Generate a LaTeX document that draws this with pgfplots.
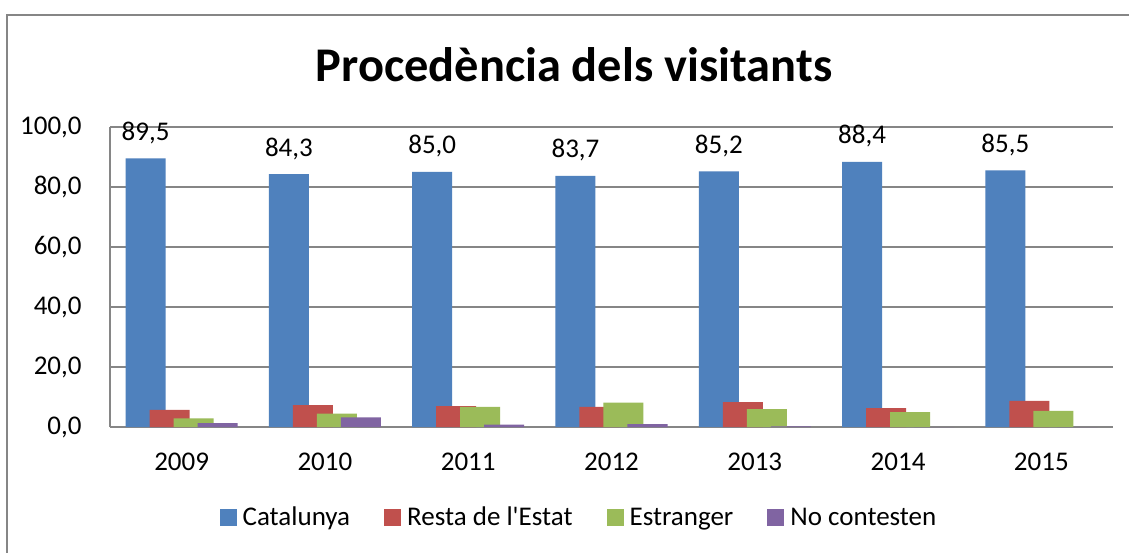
\documentclass[border=0pt]{standalone}
\usepackage{pgfplots}
\pgfplotsset{compat=1.18}
\usepackage{fontspec}
\setmainfont{Carlito}[Ligatures=TeXOff]
\definecolor{cBlue}{HTML}{4F81BD}
\definecolor{cRed}{HTML}{C0504D}
\definecolor{cGreen}{HTML}{9BBB59}
\definecolor{cPurple}{HTML}{8064A2}
\definecolor{cGrid}{HTML}{868686}
\begin{document}
\begin{tikzpicture}
\path[use as bounding box, fill=white] (0,0) rectangle (564.5pt,276pt);
\draw[cGrid, line width=0.75pt] (3.5pt,-1pt) -- (3.5pt,268.5pt) -- (566pt,268.5pt);
\node[font=\fontsize{24.2}{28}\selectfont\bfseries] at (287pt,243.5pt) {Procedència dels visitants};
\begin{axis}[
  at={(55pt,62.5pt)}, anchor=south west,
  scale only axis, width=501.5pt, height=150pt,
  xmin=-0.5, xmax=6.5, ymin=0, ymax=100,
  xtick=data, xticklabels={2009,2010,2011,2012,2013,2014,2015},
  ytick={0,20,40,60,80,100},
  axis x line=bottom, axis y line=left,
  axis line style={-, draw=cGrid, line width=0.75pt},
  ymajorgrids, grid style={cGrid, line width=0.75pt},
  major tick length=0pt,
  tick label style={font=\fontsize{13.5}{16}\selectfont},
  /pgf/number format/assume math mode=true,
  yticklabel={\pgfmathprintnumber[fixed,fixed zerofill,precision=1,use comma]{\tick}},
  yticklabel style={anchor=east, inner sep=0pt, xshift=-14pt},
  xticklabel style={anchor=north, inner sep=0pt, yshift=-13pt},
  ybar, bar width=20pt,
  legend columns=4,
  legend style={at={(0.4686,-0.303)}, anchor=center, draw=none, fill=none,
    font=\fontsize{13.5}{16}\selectfont,
    /tikz/every even column/.append style={column sep=15pt},
    /tikz/every odd column/.append style={column sep=1pt}},
  legend image code/.code={\fill[#1] (0pt,-4.25pt) rectangle (8.5pt,4.25pt);},
]
\addplot[fill=cBlue, draw=none, bar shift=-18pt,
  nodes near coords={\pgfmathprintnumber[fixed,fixed zerofill,precision=1,use comma,assume math mode=true]{\pgfplotspointmeta}},
  every node near coord/.append style={anchor=base, inner sep=0pt, yshift=9pt, font=\fontsize{13.5}{16}\selectfont, text=black}]
  coordinates {(0,89.5) (1,84.3) (2,85.0) (3,83.7) (4,85.2) (5,88.4) (6,85.5)};
\addplot[fill=cRed, draw=none, bar shift=-6pt]
  coordinates {(0,5.7) (1,7.3) (2,7.0) (3,6.7) (4,8.3) (5,6.3) (6,8.7)};
\addplot[fill=cGreen, draw=none, bar shift=6pt]
  coordinates {(0,2.9) (1,4.5) (2,6.7) (3,8.1) (4,6.0) (5,5.0) (6,5.4)};
\addplot[fill=cPurple, draw=none, bar shift=18pt]
  coordinates {(0,1.3) (1,3.2) (2,0.8) (3,1.0) (4,0.2) (5,0) (6,0)};
\legend{Catalunya, Resta de l'Estat, Estranger, No contesten}
\end{axis}
\end{tikzpicture}
\end{document}
